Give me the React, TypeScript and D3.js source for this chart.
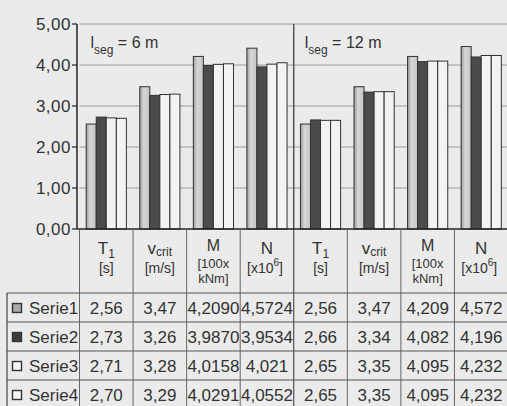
import React from "react";
import * as d3 from "d3";

const categories = ["T1", "vcrit", "M", "N", "T1", "vcrit", "M", "N"];
const catMain = ["T", "v", "M", "N", "T", "v", "M", "N"];
const catSub = ["1", "crit", "", "", "1", "crit", "", ""];
const catUnit1 = ["[s]", "[m/s]", "[100x", "[x10", "[s]", "[m/s]", "[100x", "[x10"];
const catUnit2 = ["", "", "kNm]", "", "", "", "kNm]", ""];
const seriesNames = ["Serie1", "Serie2", "Serie3", "Serie4"];

// bar heights
const serie1 = [2.56, 3.47, 4.209, 4.41, 2.56, 3.47, 4.209, 4.45];
const serie2 = [2.73, 3.26, 3.987, 3.9534, 2.66, 3.34, 4.082, 4.196];
const serie3 = [2.71, 3.28, 4.0158, 4.021, 2.65, 3.35, 4.095, 4.232];
const serie4 = [2.7, 3.29, 4.0291, 4.0552, 2.65, 3.35, 4.095, 4.232];

// data table texts
const table1 = ["2,56", "3,47", "4,2090", "4,5724", "2,56", "3,47", "4,209", "4,572"];
const table2 = ["2,73", "3,26", "3,9870", "3,9534", "2,66", "3,34", "4,082", "4,196"];
const table3 = ["2,71", "3,28", "4,0158", "4,021", "2,65", "3,35", "4,095", "4,232"];
const table4 = ["2,70", "3,29", "4,0291", "4,0552", "2,65", "3,35", "4,095", "4,232"];

const yTicks = [0, 1, 2, 3, 4, 5];
const yTickLabels = ["0,00", "1,00", "2,00", "3,00", "4,00", "5,00"];
const segLabels = [
  { n: "6", at: 0 },
  { n: "12", at: 4 },
];

const seriesValues = [serie1, serie2, serie3, serie4];
const tableTexts = [table1, table2, table3, table4];
const fills = ["url(#g1)", "#4b4b4b", "#f3f3f3", "#f3f3f3"];

export default function App() {
  const W = 507;
  const H = 406;
  const left = 79.5;
  const right = 508;
  const top = 24;
  const base = 229;
  const headBottom = 293;
  const rowH = 29;
  const font = "'Liberation Sans', Arial, sans-serif";
  const ink = "#333333";

  const y = d3.scaleLinear().domain([0, 5]).range([base, top]);
  const x = d3
    .scaleBand<number>()
    .domain(categories.map((_, i) => i))
    .range([left, right]);
  const bw = x.bandwidth();
  const xs = d3
    .scaleBand<string>()
    .domain(seriesNames)
    .range([bw * 0.125, bw * 0.875]);

  const bounds = categories.map((_, i) => x(i) as number).concat([right]);

  return (
    <svg
      width={W}
      height={H}
      style={{ position: "absolute", left: 0, top: 0, background: "#ebebeb" }}
      fontFamily={font}
    >
      <defs>
        <linearGradient id="g1" x1="0" x2="1" y1="0" y2="0">
          <stop offset="0" stopColor="#9c9c9c" />
          <stop offset="0.4" stopColor="#d6d6d6" />
          <stop offset="1" stopColor="#c4c4c4" />
        </linearGradient>
      </defs>
      <rect x={0} y={0} width={W} height={H} fill="#ebebeb" />

      {/* gridlines */}
      {yTicks.slice(1).map((t) => (
        <line
          key={"g" + t}
          x1={left}
          x2={right}
          y1={y(t)}
          y2={y(t)}
          stroke="#9a9a9a"
          strokeWidth={1}
        />
      ))}

      {/* bars */}
      {categories.map((_, i) =>
        seriesNames.map((s, k) => {
          const v = seriesValues[k][i];
          const bx = (x(i) as number) + (xs(s) as number);
          return (
            <rect
              key={"b" + i + k}
              x={bx}
              y={y(v)}
              width={xs.bandwidth()}
              height={base - y(v)}
              fill={fills[k]}
              stroke="#333"
              strokeWidth={1}
            />
          );
        })
      )}

      {/* separator between groups */}
      <line x1={x(4)} x2={x(4)} y1={top} y2={base} stroke="#333" strokeWidth={1.2} />

      {/* y axis */}
      <line x1={77} x2={77} y1={top} y2={base} stroke="#222" strokeWidth={1.5} />
      {yTicks.map((t, i) => (
        <g key={"t" + t}>
          <line x1={72} x2={77} y1={y(t)} y2={y(t)} stroke="#222" strokeWidth={1.2} />
          <text
            x={71}
            y={y(t) + 6}
            textAnchor="end"
            fontSize={17}
            letterSpacing={0.5}
            fill={ink}
          >
            {yTickLabels[i]}
          </text>
        </g>
      ))}
      <line x1={77} x2={right} y1={base} y2={base} stroke="#222" strokeWidth={1.5} />

      {/* segment labels */}
      {segLabels.map((s) => {
        const sx = (x(s.at) as number) + 11;
        return (
          <text key={"s" + s.n} x={sx} y={48} fontSize={16} fill={ink}>
            l
            <tspan dy={6} fontSize={12}>
              seg
            </tspan>
            <tspan dy={-6}>{" = " + s.n + " m"}</tspan>
          </text>
        );
      })}

      {/* table vertical lines */}
      {bounds.map((bx, i) => (
        <line
          key={"v" + i}
          x1={bx}
          x2={bx}
          y1={base}
          y2={H}
          stroke={i === 4 ? "#333" : "#666"}
          strokeWidth={1}
        />
      ))}
      {/* table left border */}
      <line x1={7} x2={7} y1={headBottom} y2={H} stroke="#444" strokeWidth={1.2} />
      {/* row lines */}
      {[0, 1, 2, 3].map((r) => (
        <line
          key={"r" + r}
          x1={7}
          x2={right}
          y1={headBottom + r * rowH}
          y2={headBottom + r * rowH}
          stroke="#555"
          strokeWidth={1}
        />
      ))}

      {/* header */}
      {categories.map((_, i) => {
        const cx = (x(i) as number) + bw / 2;
        const isM = catUnit2[i] !== "";
        const isN = catMain[i] === "N";
        const isV = catMain[i] === "v";
        return (
          <g key={"h" + i} fill={ink}>
            <text
              x={cx}
              y={isM ? 251 : 254}
              textAnchor="middle"
              fontSize={isM ? 16 : 17}
            >
              {catMain[i]}
              {catSub[i] !== "" && (
                <tspan dy={isV ? 2 : 4} fontSize={12}>
                  {catSub[i]}
                </tspan>
              )}
            </text>
            <text
              x={isN ? cx - 2 : cx}
              y={isM ? 268 : 273}
              textAnchor="middle"
              fontSize={isM ? 13 : 14}
            >
              {catUnit1[i]}
              {isN && (
                <>
                  <tspan dy={-7} fontSize={10}>
                    6
                  </tspan>
                  <tspan dy={7}>]</tspan>
                </>
              )}
            </text>
            {isM && (
              <text x={cx} y={283} textAnchor="middle" fontSize={13}>
                {catUnit2[i]}
              </text>
            )}
          </g>
        );
      })}

      {/* rows */}
      {seriesNames.map((s, k) => {
        const ry = headBottom + k * rowH;
        return (
          <g key={"row" + s} fill={ink}>
            <rect
              x={12.5}
              y={ry + 10.5}
              width={9}
              height={9}
              fill={k === 0 ? "#a8a8a8" : k === 1 ? "#3c3c3c" : "#f5f5f5"}
              stroke="#333"
              strokeWidth={1.4}
            />
            <text x={29} y={ry + 21} fontSize={17}>
              {s}
            </text>
            {tableTexts[k].map((t, i) => (
              <text
                key={"c" + i}
                x={(x(i) as number) + bw / 2}
                y={ry + 21}
                textAnchor="middle"
                fontSize={17}
              >
                {t}
              </text>
            ))}
          </g>
        );
      })}
    </svg>
  );
}
